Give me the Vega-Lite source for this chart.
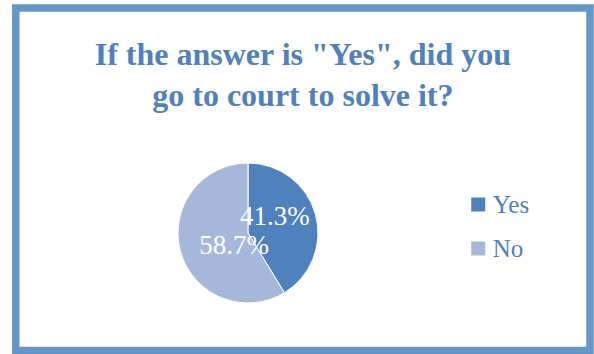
{
  "$schema": "https://vega.github.io/schema/vega-lite/v6.json",
  "width": 574.25,
  "height": 342.5,
  "autosize": {"type": "none"},
  "padding": {"left": 15.75, "top": 8, "right": 4, "bottom": 3.5},
  "background": "white",
  "view": {"stroke": "#6496c8", "strokeWidth": 7.5},
  "title": {
    "text": ["If the answer is \"Yes\", did you", "go to court to solve it?"],
    "frame": "group",
    "anchor": "middle",
    "orient": "top",
    "baseline": "top",
    "offset": -30,
    "dy": 74.5,
    "font": "Liberation Serif",
    "fontWeight": "bold",
    "fontSize": 32,
    "color": "#4f81bd",
    "lineHeight": 41
  },
  "data": {
    "values": [
      {"answer": "Yes", "value": 41.3, "label": "41.3%"},
      {"answer": "No", "value": 58.7, "label": "58.7%"}
    ]
  },
  "encoding": {
    "theta": {"field": "value", "type": "quantitative", "stack": true},
    "order": {"field": "answer", "sort": "descending"},
    "color": {
      "field": "answer",
      "type": "nominal",
      "sort": ["Yes", "No"],
      "scale": {"domain": ["Yes", "No"], "range": ["#4f81bd", "#a5b8da"]},
      "legend": {
        "title": null,
        "orient": "none",
        "legendX": 450,
        "legendY": 184,
        "symbolType": "square",
        "symbolSize": 196,
        "symbolStrokeWidth": 0,
        "labelFont": "Liberation Serif",
        "labelFontSize": 25,
        "labelColor": "#4f81bd",
        "labelOffset": 2,
        "rowPadding": 18,
        "padding": 0
      }
    }
  },
  "layer": [
    {
      "mark": {"type": "arc", "outerRadius": 70, "x": 232.25, "y": 225, "stroke": "white", "strokeWidth": 1}
    },
    {
      "mark": {"type": "text", "radius": 30, "x": 232.25, "y": 225, "dx": -2, "dy": -8, "font": "Liberation Serif", "fontSize": 27, "baseline": "middle", "align": "center"},
      "encoding": {
        "text": {"condition": {"test": "datum.answer === 'Yes'", "field": "label"}, "value": ""},
        "color": {"value": "white"}
      }
    },
    {
      "mark": {"type": "text", "radius": 30, "x": 232.25, "y": 225, "dx": 15, "dy": 5, "font": "Liberation Serif", "fontSize": 27, "baseline": "middle", "align": "center"},
      "encoding": {
        "text": {"condition": {"test": "datum.answer === 'No'", "field": "label"}, "value": ""},
        "color": {"value": "white"}
      }
    }
  ],
  "config": {
    "view": {"stroke": "#6496c8", "strokeWidth": 7.5}
  }
}
